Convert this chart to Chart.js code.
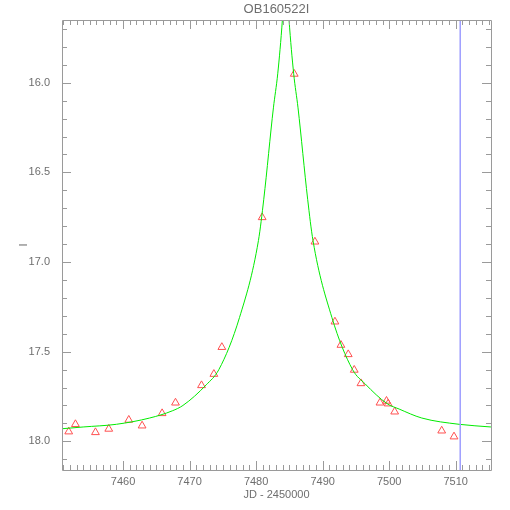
<!DOCTYPE html>
<html>
<head>
<meta charset="utf-8">
<script src="https://cdn.jsdelivr.net/npm/chart.js@4"></script>
<style>
  html, body { margin: 0; padding: 0; background: #fff; }
  #wrap { width: 510px; height: 510px; }
</style>
</head>
<body>
<div id="wrap"><canvas id="lcChart" width="510" height="510"></canvas></div>
<script>
let chartTitle = 'OB160522I';
let xTitle = 'JD - 2450000';
let yTitle = 'I';

// observed photometry
let obsJD = [
  7451.83, 7452.84, 7455.85, 7457.85, 7460.86, 7462.86, 7465.87, 7467.88,
  7471.79, 7473.65, 7474.85, 7480.91, 7485.73, 7488.84, 7491.85, 7492.75,
  7493.85, 7494.75, 7495.76, 7498.62, 7499.6, 7499.85, 7500.83, 7507.9, 7509.75,
];
let obsMag = [
  17.946, 17.905, 17.95, 17.931, 17.881, 17.913, 17.844, 17.785,
  17.688, 17.625, 17.475, 16.751, 15.951, 16.887, 17.333, 17.463,
  17.515, 17.602, 17.677, 17.785, 17.775, 17.79, 17.835, 17.941, 17.974,
];

// model curve
let modelJD = [
  7450.8, 7454.0, 7459.0, 7464.0, 7467.4, 7469.0, 7472.5, 7474.4, 7477.5,
  7480.35, 7481.15, 7482.6, 7483.25, 7483.95, 7484.45, 7484.95, 7485.65,
  7486.3, 7487.75, 7488.55, 7491.4, 7494.5, 7496.4, 7499.7, 7501.5, 7504.9,
  7510.5, 7515.3,
];
let modelMag = [
  17.93, 17.92, 17.905, 17.87, 17.83, 17.80, 17.685, 17.6, 17.31,
  16.88, 16.65, 16.14, 15.95, 15.65, 15.35, 15.65, 15.95,
  16.14, 16.65, 16.88, 17.31, 17.6, 17.68, 17.79, 17.82, 17.87,
  17.905, 17.92,
];

let markerJD = 7510.69;

let xRange = [7450.82, 7515.31];
let yRange = [15.65, 18.16];

let toPoints = (xs, ys) => xs.map((x, i) => ({ x: x, y: ys[i] }));

let axisGray = '#9a9a9a';
let textGray = '#6e6e6e';

// IDL style box with inward ticks
let boxTicks = {
  id: 'boxTicks',
  afterDraw(chart) {
    let { ctx, chartArea: a, scales } = chart;
    let xs = scales.x;
    let ys = scales.y;
    ctx.save();
    ctx.strokeStyle = axisGray;
    ctx.lineWidth = 1;
    ctx.beginPath();
    ctx.rect(Math.round(a.left) + 0.5, Math.round(a.top) + 0.5,
      Math.round(a.right - a.left), Math.round(a.bottom - a.top));
    for (let v = Math.ceil(xRange[0]); v <= xRange[1]; v++) {
      let px = Math.round(xs.getPixelForValue(v)) + 0.5;
      let len = v % 10 === 0 ? 9 : 5;
      ctx.moveTo(px, a.bottom);
      ctx.lineTo(px, a.bottom - len);
      ctx.moveTo(px, a.top);
      ctx.lineTo(px, a.top + len);
    }
    for (let k = Math.ceil(yRange[0] * 10); k <= yRange[1] * 10; k++) {
      let py = Math.round(ys.getPixelForValue(k / 10)) + 0.5;
      let len = k % 5 === 0 ? 9 : 5;
      ctx.moveTo(a.left, py);
      ctx.lineTo(a.left + len, py);
      ctx.moveTo(a.right, py);
      ctx.lineTo(a.right - len, py);
    }
    ctx.stroke();
    ctx.restore();
  },
};

let ctx = document.getElementById('lcChart').getContext('2d');

new Chart(ctx, {
  type: 'scatter',
  data: {
    datasets: [
      {
        label: 'cut',
        data: [{ x: markerJD, y: yRange[0] }, { x: markerJD, y: yRange[1] }],
        showLine: true,
        borderColor: 'rgb(160,160,255)',
        borderWidth: 1,
        pointRadius: 0,
      },
      {
        label: 'model',
        data: toPoints(modelJD, modelMag),
        showLine: true,
        borderColor: 'rgb(0,235,0)',
        borderWidth: 1,
        pointRadius: 0,
        cubicInterpolationMode: 'monotone',
      },
      {
        label: 'data',
        data: toPoints(obsJD, obsMag),
        pointStyle: 'triangle',
        pointRadius: 4.5,
        borderColor: 'rgb(255,80,80)',
        backgroundColor: 'rgba(0,0,0,0)',
        borderWidth: 1,
      },
    ],
  },
  options: {
    responsive: false,
    animation: false,
    layout: { padding: { top: 0, left: 0, right: 19, bottom: 0 } },
    plugins: {
      legend: { display: false },
      tooltip: { enabled: false },
      title: {
        display: true,
        text: chartTitle,
        fullSize: false,
        color: textGray,
        font: { family: 'Liberation Sans', size: 13, weight: 'normal' },
        padding: { top: 2, bottom: 2.4 },
      },
    },
    scales: {
      x: {
        type: 'linear',
        min: xRange[0],
        max: xRange[1],
        grid: { display: false, drawTicks: false },
        border: { display: false },
        ticks: {
          stepSize: 10,
          includeBounds: false,
          color: textGray,
          padding: 5,
          maxRotation: 0,
          font: { family: 'Liberation Sans', size: 11 },
          callback: (v) => String(v),
        },
        title: {
          display: true,
          text: xTitle,
          color: textGray,
          font: { family: 'Liberation Sans', size: 11 },
          padding: { top: 0, bottom: 8 },
        },
        afterFit: (scale) => { scale.height = 40; },
      },
      y: {
        type: 'linear',
        reverse: true,
        min: yRange[0],
        max: yRange[1],
        grid: { display: false, drawTicks: false },
        border: { display: false },
        ticks: {
          stepSize: 0.5,
          includeBounds: false,
          color: textGray,
          padding: 12,
          font: { family: 'Liberation Sans', size: 11 },
          callback: (v) => v.toFixed(1),
        },
        title: {
          display: true,
          text: yTitle,
          color: textGray,
          font: { family: 'Liberation Sans', size: 11 },
          padding: { top: 17, bottom: 0 },
        },
        afterFit: (scale) => { scale.width = 62; },
      },
    },
  },
  plugins: [boxTicks],
});
</script>
</body>
</html>
